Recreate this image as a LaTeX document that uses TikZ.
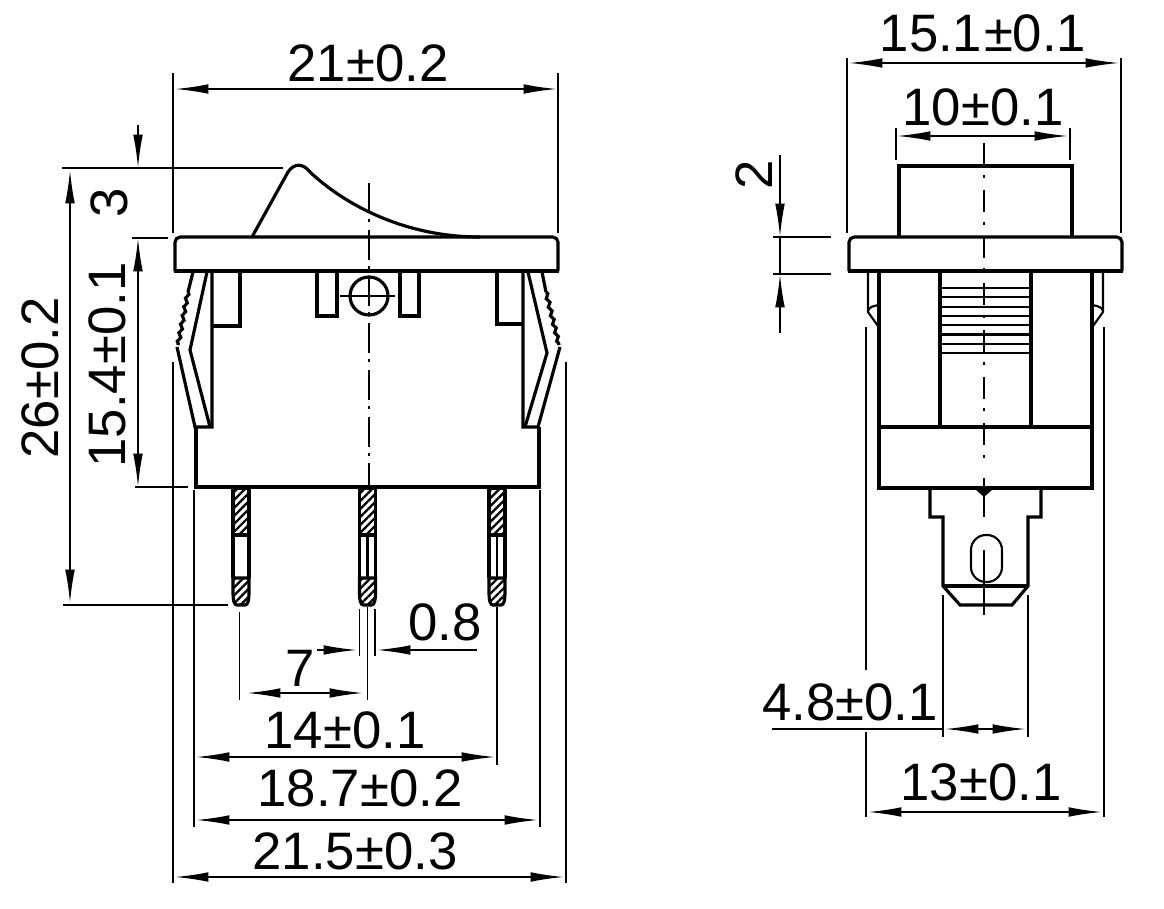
\documentclass[tikz,border=0pt]{standalone}
\usepackage{fontspec}
\setmainfont{Liberation Sans}
\usetikzlibrary{arrows.meta, patterns.meta, decorations.pathmorphing}
\tikzset{
	part/.style={line width=1.8pt, line join=miter},
	thinpart/.style={line width=1.2pt},
	witness/.style={line width=1pt},
	dimline/.style={line width=1pt, {Latex[length=19pt,width=5.5pt]}-{Latex[length=19pt,width=5.5pt]}},
	dimin/.style={line width=1pt, -{Latex[length=19pt,width=5.5pt]}},
	dimtext/.style={inner sep=0pt, font=\fontsize{30}{32}\selectfont},
	axisfront/.style={line width=1pt, dash pattern=on 17pt off 3.4pt on 1.7pt off 4.5pt},
	axisside/.style={line width=1pt, dash pattern=on 12.5pt off 5.6pt on 1.7pt off 6.8pt},
	pinhatch/.style={pattern={Lines[angle=45,distance=3.2pt,line width=1.3pt]}},
	serrated/.style={decorate, decoration={zigzag,segment length=5pt,amplitude=.8pt}},
}
\begin{document}
\begin{tikzpicture}[x=0.02cm, y=-0.02cm]
	\useasboundingbox (0,0) rectangle (1164,909);
	\begin{scope}
		% rocker and flange
		\draw[part] (252,237) -- (288,172) .. controls (294,163) and (303,163) .. (310,172)
			.. controls (345,205) and (405,237) .. (480,237);
		\draw[part, rounded corners=3pt] (175,271) -- (175,237) -- (558,237) -- (558,271);
		\draw[part] (174,271) -- (559,271);
		% latches
		\draw[part] (193,272) -- (188,292);
		\draw[part, serrated] (188,292) -- (178,345);
		\draw[part] (177,347) -- (195,427) -- (212,427) -- (212,272);
		\draw[part] (207,272) -- (190,350) -- (210,427);
		\draw[part] (240,272) -- (240,326) -- (212,326);
		\draw[part] (542,272) -- (546,292);
		\draw[part, serrated] (546,292) -- (559,345);
		\draw[part] (560,347) -- (538,427) -- (523,427) -- (523,272);
		\draw[part] (528,272) -- (547,353) -- (525,427);
		\draw[part] (497,272) -- (497,324) -- (523,324);
		% body
		\draw[part] (196,427) -- (196,487) -- (539,487) -- (539,427);
		\draw[part] (317,272) -- (317,316) -- (337,316) -- (337,272);
		\draw[part] (400,272) -- (400,316) -- (419,316) -- (419,272);
		\draw[part] (369,296) circle (19);
		\draw[witness] (340,296) -- (395,296);
		\draw[axisfront] (369,183) -- (369,487);
		% pins
		\foreach \px in {241,367.5,497} {
			\draw[part, pinhatch] (\px-8,488) rectangle (\px+8,535);
			\draw[part] (\px-8,535) -- (\px-8,578) (\px+8,535) -- (\px+8,578);
			\draw[part, pinhatch] (\px-8,578) -- (\px-8,593) .. controls (\px-8,600) and (\px-7,605) .. (\px-4,605)
				-- (\px+4,605) .. controls (\px+7,605) and (\px+8,600) .. (\px+8,593) -- (\px+8,578) -- cycle;
		}
		\draw[thinpart] (367.5,535) -- (367.5,578);
		\draw[thinpart] (497,535) -- (497,578);
		% extension lines
		\draw[witness] (173,73) -- (173,233);
		\draw[witness] (558,73) -- (558,233);
		\draw[witness] (62,168) -- (283,168);
		\draw[witness] (132,238) -- (168,238);
		\draw[witness] (135,487) -- (188,487);
		\draw[witness] (63,605) -- (228,605);
		\draw[witness] (173,362) -- (173,883);
		\draw[witness] (566,362) -- (566,883);
		\draw[witness] (194,490) -- (194,827);
		\draw[witness] (540,490) -- (540,827);
		\draw[witness] (239.5,612) -- (239.5,700);
		\draw[witness] (367.5,607) -- (367.5,700);
		\draw[witness] (497,607) -- (497,765);
		\draw[witness] (359.5,609) -- (359.5,656);
		\draw[witness] (375,609) -- (375,656);
		% dimensions
		\draw[dimline] (175,89) -- (557,89);
		\node[dimtext] (widthtop) at (368,63) {21±0.2};
		\draw[dimin] (138,125) -- (138,168);
		\node[dimtext, rotate=90] (rockerh) at (109,203) {3};
		\draw[dimline] (138,238) -- (138,487);
		\node[dimtext, rotate=90] (flangeh) at (107,365) {15.4±0.1};
		\draw[dimline] (70,170) -- (70,603);
		\node[dimtext, rotate=90] (totalh) at (40,378) {26±0.2};
		\draw[dimline] (247,693) -- (363,693);
		\node[dimtext] (pitchone) at (300,668) {7};
		\draw[dimin] (317,650) -- (357,650);
		\draw[dimin] (477,650) -- (377,650);
		\node[dimtext] (pinw) at (445,622) {0.8};
		\draw[dimline] (196,757) -- (495,757);
		\node[dimtext] (pitchtwo) at (345,730) {14±0.1};
		\draw[dimline] (196,820) -- (538,820);
		\node[dimtext] (bodyw) at (360,788) {18.7±0.2};
		\draw[dimline] (175,877) -- (564,877);
		\node[dimtext] (latchw) at (355,851) {21.5±0.3};
	\end{scope}

	\begin{scope}
		% cap, flange, body
		\draw[part] (899,237) -- (899,166) -- (1072,166) -- (1072,237);
		\draw[part, rounded corners=3pt] (849,271) -- (849,237) -- (1122,237) -- (1122,271);
		\draw[part] (848,271) -- (1123,271);
		\draw[part] (879,271) -- (879,488) -- (1092,488) -- (1092,271);
		\draw[part] (879,427) -- (1092,427);
		\draw[part] (940,271) -- (940,427);
		\draw[part] (1031,271) -- (1031,427);
		\foreach \ry in {288,297.3,...,354} {
			\draw[thinpart] (940,\ry) -- (1031,\ry);
		}
		% clips
		\draw[thinpart] (868,271) -- (868,312) -- (878,326);
		\draw[thinpart] (879,305) .. controls (873,306) and (869,307) .. (868,311);
		\draw[thinpart] (1103,271) -- (1103,312) -- (1093,326);
		\draw[thinpart] (1092,305) .. controls (1098,306) and (1102,307) .. (1103,311);
		% terminal
		\fill (975,489) -- (993,489) -- (984,497) -- cycle;
		\draw[part] (930,488) -- (930,517) -- (943,517) -- (943,586) -- (960,605) -- (1012,605) -- (1028,586)
			-- (1028,517) -- (1041,517) -- (1041,488);
		\draw[part] (943,586) -- (1028,586);
		\draw[thinpart, rounded corners=8.5pt] (971,535) rectangle (1002,582);
		\draw[axisside] (984,143) -- (984,470);
		\draw[witness] (984,478) -- (984,517);
		\draw[witness] (984,550) -- (984,615);
		% extension lines
		\draw[witness] (847,58) -- (847,233);
		\draw[witness] (1121,58) -- (1121,233);
		\draw[witness] (896,128) -- (896,160);
		\draw[witness] (1070,128) -- (1070,160);
		\draw[witness] (773,237) -- (831,237);
		\draw[witness] (773,274) -- (831,274);
		\draw[witness] (866,327) -- (866,670);
		\draw[witness] (866,732) -- (866,817);
		\draw[witness] (1104,327) -- (1104,817);
		\draw[witness] (943,595) -- (943,737);
		\draw[witness] (1028,595) -- (1028,737);
		% dimensions
		\draw[dimline] (849,63) -- (1119,63);
		\node[dimtext] (capouter) at (983,33) {15.1\kern1pt±0.1};
		\draw[dimline] (897,136) -- (1068,136);
		\node[dimtext] (capinner) at (983,107) {10±0.1};
		\draw[dimin] (780,155) -- (780,237);
		\draw[witness] (780,237) -- (780,274);
		\draw[dimin] (780,333) -- (780,274);
		\node[dimtext, rotate=90] (flangethick) at (754,175) {2};
		\draw[dimline] (945,729) -- (1026,729);
		\draw[witness] (772,729) -- (943,729);
		\node[dimtext] (tabw) at (850,702) {4.8±0.1};
		\draw[dimline] (868,812) -- (1102,812);
		\node[dimtext] (sidew) at (981,782) {13±0.1};
	\end{scope}
\end{tikzpicture}
\end{document}
